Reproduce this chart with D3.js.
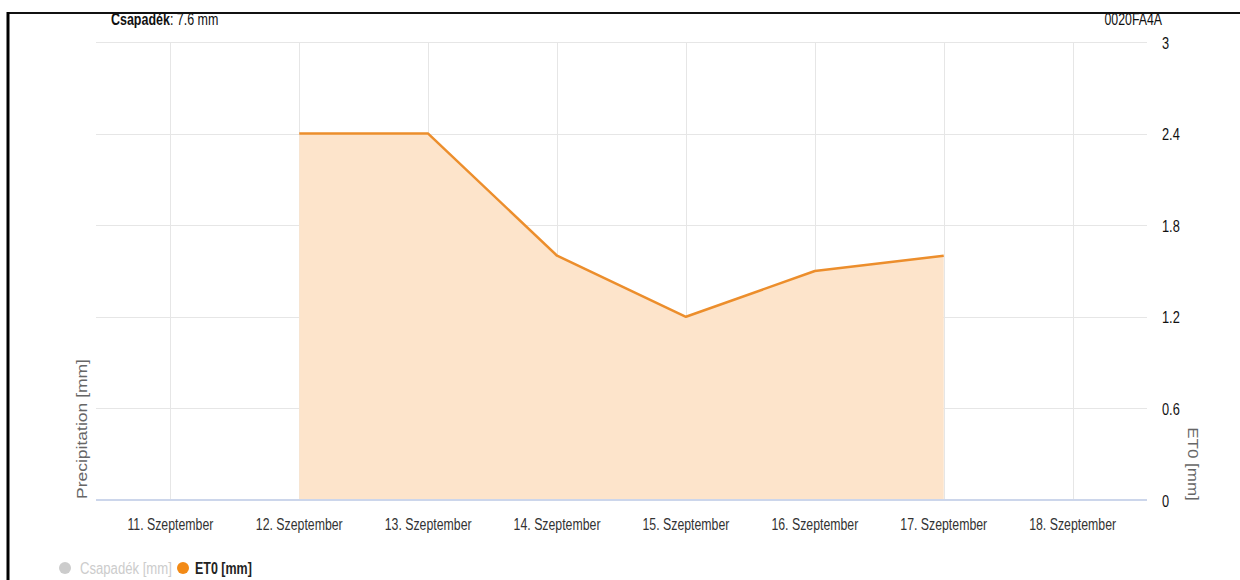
<!DOCTYPE html>
<html lang="hu">
    <head>
        <meta charset="utf-8">
        <title>ET0 chart</title>
        <script type="text/javascript" src="https://d3js.org/d3.v7.min.js"></script>
        <style>
            body { margin: 0; background: #fff; }
            text { font-family: "Liberation Sans", Arial, sans-serif; }
            .grid line { stroke: #e6e6e6; stroke-width: 1; }
        </style>
    </head>
    <body>
        <svg id="chart" width="1240" height="580"></svg>
    </body>
    <script>
        // data
        let days = ["11. Szeptember", "12. Szeptember", "13. Szeptember", "14. Szeptember",
                    "15. Szeptember", "16. Szeptember", "17. Szeptember", "18. Szeptember"];
        let et0 = [null, 2.4, 2.4, 1.6, 1.2, 1.5, 1.6, null];
        let yTicks = [0, 0.6, 1.2, 1.8, 2.4, 3];
        let title = "Csapadék";
        let titleValue = ": 7.6 mm";
        let stationId = "0020FA4A";

        let svg = d3.select("#chart");

        let plotLeft = 96, plotRight = 1147, plotTop = 42, plotBottom = 500;

        let x = d3.scalePoint().domain(days).range([plotLeft, plotRight]).padding(0.577);
        let y = d3.scaleLinear().domain([0, 3]).range([plotBottom, plotTop]);

        // frame
        svg.append("line").attr("x1", 8).attr("x2", 1240).attr("y1", 13).attr("y2", 13)
            .attr("stroke", "#111").attr("stroke-width", 2);
        svg.append("line").attr("x1", 8).attr("x2", 8).attr("y1", 12).attr("y2", 580)
            .attr("stroke", "#000").attr("stroke-width", 3);

        // grid
        let grid = svg.append("g").attr("class", "grid");
        grid.selectAll("line.h")
            .data(yTicks.filter(d => d > 0))
            .enter()
            .append("line")
            .attr("class", "h")
            .attr("x1", plotLeft).attr("x2", plotRight)
            .attr("y1", d => Math.round(y(d)) + 0.5)
            .attr("y2", d => Math.round(y(d)) + 0.5);
        grid.selectAll("line.v")
            .data(days)
            .enter()
            .append("line")
            .attr("class", "v")
            .attr("x1", d => Math.round(x(d)) + 0.5)
            .attr("x2", d => Math.round(x(d)) + 0.5)
            .attr("y1", plotTop).attr("y2", plotBottom);

        // area + line
        let pts = days.map((d, i) => ({day: d, v: et0[i]}));
        let area = d3.area()
            .defined(d => d.v !== null)
            .x(d => x(d.day))
            .y0(y(0))
            .y1(d => y(d.v));
        let line = d3.line()
            .defined(d => d.v !== null)
            .x(d => x(d.day))
            .y(d => y(d.v));

        svg.append("path").datum(pts)
            .attr("d", area)
            .attr("fill", "#fde4cb");
        svg.append("path").datum(pts)
            .attr("d", line)
            .attr("fill", "none")
            .attr("stroke", "#ec8e2c")
            .attr("stroke-width", 2.5)
            .attr("stroke-linejoin", "round");

        // x axis line
        svg.append("line")
            .attr("x1", plotLeft).attr("x2", plotRight)
            .attr("y1", y(0)).attr("y2", y(0))
            .attr("stroke", "#ccd6eb").attr("stroke-width", 2);

        // narrow text helper (the text in the picture is condensed)
        function narrowText(parent, tx, ty, str, sq) {
            return parent.append("g")
                .attr("transform", `translate(${tx},${ty}) scale(${sq},1)`)
                .append("text")
                .text(str);
        }

        // x labels
        days.forEach(d => {
            narrowText(svg, x(d), 530, d, 0.77)
                .attr("text-anchor", "middle")
                .attr("font-size", 16)
                .attr("fill", "#333");
        });

        // right y labels
        yTicks.forEach(t => {
            narrowText(svg, 1162, y(t) + 6.5, String(t), 0.8)
                .attr("font-size", 16)
                .attr("fill", "#111");
        });

        // axis titles
        svg.append("g")
            .attr("transform", `translate(87,429) rotate(-90) scale(1,0.87)`)
            .append("text")
            .attr("text-anchor", "middle")
            .attr("font-size", 17.5)
            .attr("fill", "#666")
            .text("Precipitation [mm]");
        svg.append("g")
            .attr("transform", `translate(1188,464) rotate(90) scale(1,0.87)`)
            .append("text")
            .attr("text-anchor", "middle")
            .attr("font-size", 17)
            .attr("fill", "#666")
            .text("ET0 [mm]");

        // title
        let tt = narrowText(svg, 111, 25, "", 0.78)
            .attr("font-size", 16)
            .attr("fill", "#111");
        tt.append("tspan").attr("font-weight", "bold").text(title);
        tt.append("tspan").text(titleValue);

        narrowText(svg, 1162, 25, stationId, 0.77)
            .attr("text-anchor", "end")
            .attr("font-size", 16)
            .attr("fill", "#111");

        // legend
        svg.append("circle").attr("cx", 65).attr("cy", 568).attr("r", 6).attr("fill", "#cccccc");
        narrowText(svg, 80, 574, "Csapadék [mm]", 0.82)
            .attr("font-size", 16)
            .attr("fill", "#cccccc");
        svg.append("circle").attr("cx", 183).attr("cy", 568).attr("r", 6).attr("fill", "#f28a16");
        narrowText(svg, 195, 574, "ET0 [mm]", 0.78)
            .attr("font-size", 16)
            .attr("font-weight", "bold")
            .attr("fill", "#222");
    </script>
</html>
